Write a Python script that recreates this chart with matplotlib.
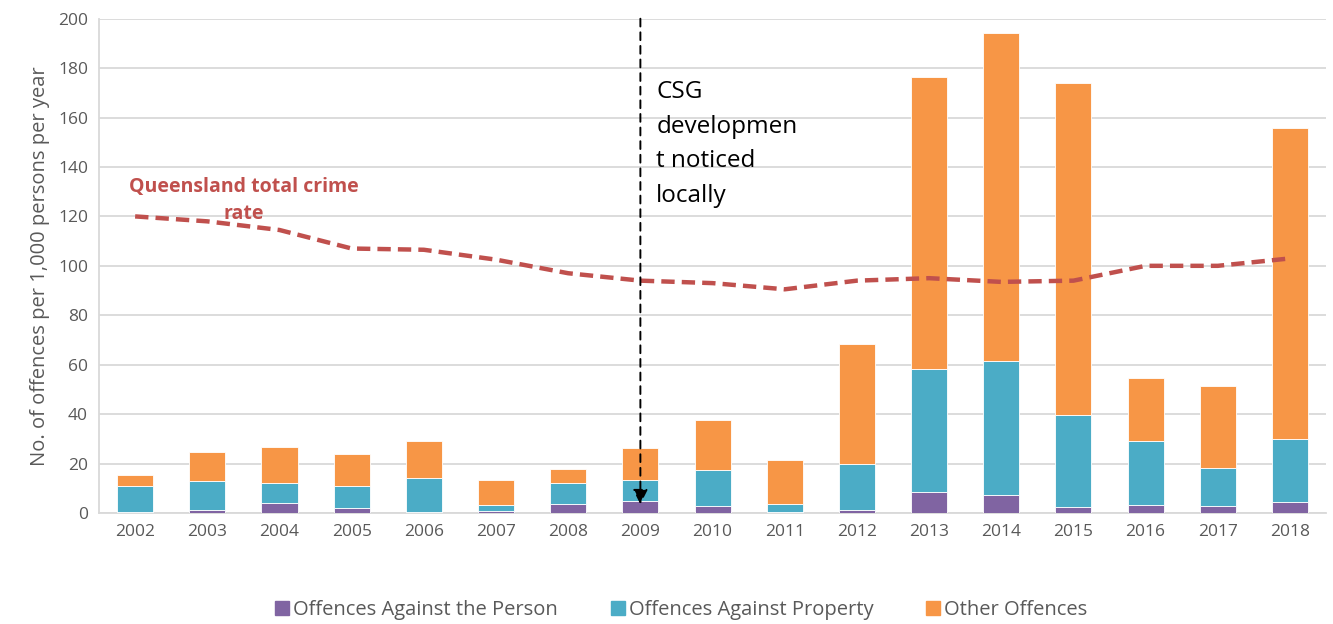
import numpy as np
import matplotlib.pyplot as plt
from matplotlib.patches import Patch

years = ["2002", "2003", "2004", "2005", "2006", "2007", "2008", "2009", "2010",
         "2011", "2012", "2013", "2014", "2015", "2016", "2017", "2018"]
person = [0.3, 1.0, 4.2, 1.9, 0.3, 0.8, 3.8, 4.7, 3.0, 0.2, 1.2, 8.5, 7.4, 2.3, 3.2, 3.0, 4.6]
property_ = [10.6, 12.0, 7.9, 8.9, 14.0, 2.3, 8.2, 8.7, 14.3, 3.3, 18.4, 49.8, 54.1, 37.3, 26.1, 15.3, 25.4]
other = [4.5, 11.7, 14.6, 13.2, 15.0, 10.1, 5.8, 13.0, 20.2, 18.1, 48.8, 118.2, 132.8, 134.4, 25.4, 33.1, 125.9]
qld_rate = [120, 118, 114.5, 107, 106.5, 102.5, 97, 94, 93, 90.5, 94, 95, 93.5, 94, 100, 100, 103]

c_person = "#8064A2"
c_prop = "#4BACC6"
c_other = "#F79646"
c_line = "#C0504D"
txt = "#595959"

plt.rcParams['font.family'] = ['Open Sans', 'DejaVu Sans']

fig = plt.figure(figsize=(13.33, 6.24), dpi=100)
ax = fig.add_axes((0.0743, 0.178, 0.9205, 0.792))

x = np.arange(len(years))
w = 0.5
person = np.array(person)
property_ = np.array(property_)
other = np.array(other)

ax.bar(x, person, w, color=c_person, edgecolor="white", linewidth=0.6, zorder=3)
ax.bar(x, property_, w, bottom=person, color=c_prop, edgecolor="white", linewidth=0.6, zorder=3)
ax.bar(x, other, w, bottom=person + property_, color=c_other, edgecolor="white", linewidth=0.6, zorder=3)

ax.plot(x, qld_rate, color=c_line, lw=3.2, ls=(0, (3, 1.6)), zorder=4)

ax.set_xlim(-0.5, len(years) - 0.5)
ax.set_ylim(0, 200)
ax.set_yticks(range(0, 201, 20))
ax.set_xticks(x)
ax.set_xticklabels(years)
ax.tick_params(axis="both", labelsize=12.5, colors=txt, length=0, pad=8)
ax.yaxis.grid(True, color="#D9D9D9", lw=1.3, zorder=0)
for s in ["top", "right"]:
    ax.spines[s].set_visible(False)
ax.spines["left"].set_color("#D9D9D9")
ax.spines["bottom"].set_color("#D9D9D9")
ax.spines["left"].set_linewidth(1.3)
ax.spines["bottom"].set_linewidth(1.3)
ax.set_ylabel("No. of offences per 1,000 persons per year", fontsize=14.5, color=txt, labelpad=6)

# CSG annotation
ax.annotate("", xy=(7, 3.5), xytext=(7, 200),
            arrowprops=dict(arrowstyle="-|>", color="black", lw=1.4, ls=(0, (4, 3)),
                            mutation_scale=22, shrinkA=0, shrinkB=0), zorder=6)
ax.text(7.22, 175, "CSG\ndevelopmen\nt noticed\nlocally", fontsize=17.5, color="black",
        va="top", ha="left", linespacing=1.58, zorder=6)

ax.text(1.5, 126.5, "Queensland total crime\nrate", fontsize=14, color=c_line,
        fontweight="bold", ha="center", va="center", linespacing=1.45, zorder=6)

handles = [Patch(color=c_person, label="Offences Against the Person"),
           Patch(color=c_prop, label="Offences Against Property"),
           Patch(color=c_other, label="Other Offences")]
leg = fig.legend(handles=handles, loc="center", bbox_to_anchor=(0.511, 0.023), ncol=3,
                 frameon=False, fontsize=14.5, handlelength=0.7, handleheight=0.7,
                 handletextpad=0.2, columnspacing=2.6)
for t in leg.get_texts():
    t.set_color(txt)

fig.savefig("out.png", dpi=100)
